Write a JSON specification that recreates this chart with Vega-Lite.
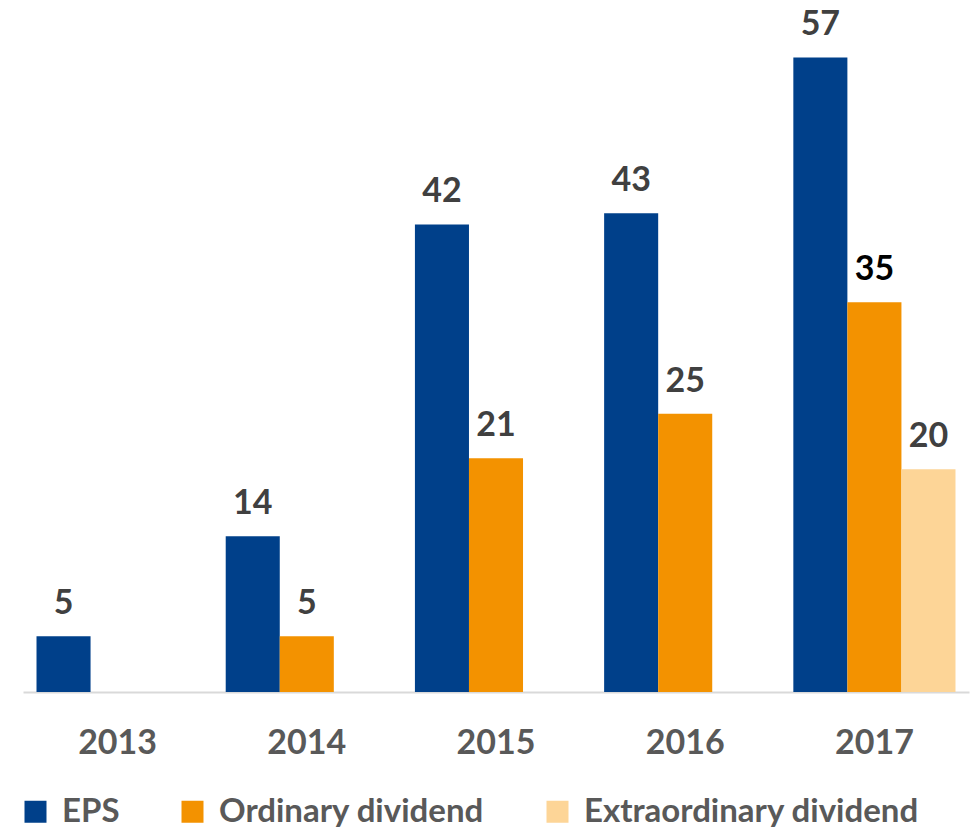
{
  "$schema": "https://vega.github.io/schema/vega-lite/v6.json",
  "autosize": "none",
  "width": 946,
  "height": 668,
  "padding": {"left": 23, "top": 24, "right": 3, "bottom": 142},
  "background": "white",
  "config": {"view": {"stroke": null}, "font": "Lato"},
  "data": {
    "values": [
      {"year": "2013", "series": "EPS", "value": 5},
      {"year": "2014", "series": "EPS", "value": 14},
      {"year": "2014", "series": "Ordinary dividend", "value": 5},
      {"year": "2015", "series": "EPS", "value": 42},
      {"year": "2015", "series": "Ordinary dividend", "value": 21},
      {"year": "2016", "series": "EPS", "value": 43},
      {"year": "2016", "series": "Ordinary dividend", "value": 25},
      {"year": "2017", "series": "EPS", "value": 57},
      {"year": "2017", "series": "Ordinary dividend", "value": 35},
      {"year": "2017", "series": "Extraordinary dividend", "value": 20}
    ]
  },
  "encoding": {
    "x": {
      "field": "year", "type": "nominal", "title": null,
      "scale": {"paddingInner": 0.143, "paddingOuter": 0.0714},
      "axis": {
        "domainColor": "#D9D9D9", "domainWidth": 2, "ticks": false,
        "labelAngle": 0, "labelFont": "Lato", "labelFontSize": 34, "labelFontWeight": "bold",
        "labelColor": "#595959", "labelPadding": 34, "labelBaseline": "top"
      }
    },
    "xOffset": {
      "field": "series", "type": "nominal",
      "scale": {"domain": ["EPS", "Ordinary dividend", "Extraordinary dividend"], "paddingInner": 0, "paddingOuter": 0}
    },
    "y": {
      "field": "value", "type": "quantitative", "title": null,
      "scale": {"domain": [0, 60], "nice": false},
      "axis": null
    }
  },
  "layer": [
    {
      "mark": {"type": "bar"},
      "encoding": {
        "color": {
          "field": "series", "type": "nominal", "title": null,
          "scale": {
            "domain": ["EPS", "Ordinary dividend", "Extraordinary dividend"],
            "range": ["#00408A", "#F39200", "#FDD597"]
          },
          "legend": {
            "orient": "none", "legendX": -4, "legendY": 771, "direction": "horizontal",
            "symbolType": "square", "symbolSize": 484, "symbolStrokeWidth": 0,
            "labelFont": "Lato", "labelFontSize": 33, "labelFontWeight": "bold", "labelColor": "#595959",
            "labelLimit": 500, "columnPadding": 56, "symbolOffset": 0, "labelOffset": 10
          }
        }
      }
    },
    {
      "mark": {"type": "text", "font": "Lato", "fontSize": 34, "fontWeight": "bold", "baseline": "alphabetic", "dy": -22},
      "encoding": {
        "text": {"field": "value", "type": "quantitative"},
        "color": {
          "condition": {"test": "datum.year == '2017' && datum.series == 'Ordinary dividend'", "value": "#000000"},
          "value": "#404040"
        }
      }
    }
  ]
}
